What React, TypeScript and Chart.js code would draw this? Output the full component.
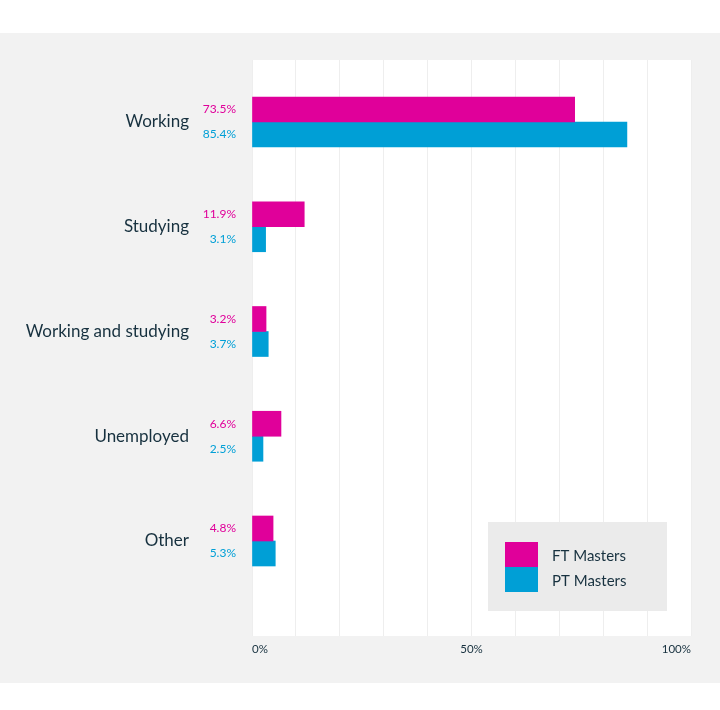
import React, { useEffect, useRef } from "react";
import { Chart, registerables } from "chart.js";

Chart.register(...registerables);

const categories = ["Working", "Studying", "Working and studying", "Unemployed", "Other"];
const ftMasters = [73.5, 11.9, 3.2, 6.6, 4.8];
const ptMasters = [85.4, 3.1, 3.7, 2.5, 5.3];
const xTickLabels = ["0%", "50%", "100%"];
const seriesNames = ["FT Masters", "PT Masters"];

const PINK = "#e0009a";
const BLUE = "#009fd6";
const TEXT = "#17313f";
const FONT = "Lato";

const chartBg = {
  id: "chartBg",
  beforeDraw(chart: any) {
    const { ctx, chartArea } = chart;
    ctx.save();
    ctx.fillStyle = "#ffffff";
    ctx.fillRect(chartArea.left, chartArea.top, chartArea.right - chartArea.left, chartArea.bottom - chartArea.top);
    ctx.restore();
  },
};

const valueLabels = {
  id: "valueLabels",
  afterDatasetsDraw(chart: any) {
    const { ctx, chartArea } = chart;
    ctx.save();
    ctx.font = `12px ${FONT}`;
    ctx.textAlign = "right";
    ctx.textBaseline = "middle";
    chart.data.datasets.forEach((ds: any, di: number) => {
      const meta = chart.getDatasetMeta(di);
      ctx.fillStyle = ds.backgroundColor;
      meta.data.forEach((el: any, i: number) => {
        const v = ds.data[i].x;
        ctx.fillText(`${v.toFixed(1)}%`, chartArea.left - 16, el.y);
      });
    });
    ctx.restore();
  },
};

const boxLegend = {
  id: "boxLegend",
  afterDraw(chart: any) {
    const { ctx, chartArea } = chart;
    const w = 179;
    const h = 89;
    const left = chartArea.right - 24 - w;
    const top = chartArea.bottom - 25 - h;
    ctx.save();
    ctx.fillStyle = "#ebebeb";
    ctx.fillRect(left, top, w, h);
    ctx.font = `15px ${FONT}`;
    ctx.textAlign = "left";
    ctx.textBaseline = "middle";
    chart.data.datasets.forEach((ds: any, i: number) => {
      const y = top + 20 + i * 25;
      ctx.fillStyle = ds.backgroundColor;
      ctx.fillRect(left + 17, y, 33, 25);
      ctx.fillStyle = TEXT;
      ctx.fillText(ds.label, left + 64, y + 14);
    });
    ctx.restore();
  },
};

export default function App() {
  const ref = useRef<HTMLCanvasElement>(null);

  useEffect(() => {
    document.body.style.margin = "0";
    if (!ref.current) return;
    const chart = new Chart(ref.current, {
      type: "bar",
      data: {
        datasets: [
          {
            label: seriesNames[0],
            data: ftMasters.map((v, i) => ({ x: v, y: i })),
            backgroundColor: PINK,
            barThickness: 25,
          },
          {
            label: seriesNames[1],
            data: ptMasters.map((v, i) => ({ x: v, y: i })),
            backgroundColor: BLUE,
            barThickness: 25,
          },
        ],
      },
      options: {
        indexAxis: "y",
        animation: false,
        responsive: false,
        maintainAspectRatio: false,
        layout: { padding: { top: 27, right: 29, bottom: 0, left: 0 } },
        plugins: {
          legend: { display: false },
          tooltip: { enabled: false },
        },
        scales: {
          x: {
            type: "linear",
            min: 0,
            max: 100,
            offset: false,
            border: { display: false },
            grid: { color: "#eeeeee", lineWidth: 1, drawTicks: false, offset: false },
            afterFit: (axis: any) => {
              axis.height = 47;
              axis.paddingLeft = 0;
              axis.paddingRight = 0;
            },
            ticks: {
              stepSize: 10,
              padding: 6,
              align: "inner",
              color: TEXT,
              font: { family: FONT, size: 11.5 },
              callback: (v: any) => {
                const idx = [0, 50, 100].indexOf(Number(v));
                return idx >= 0 ? xTickLabels[idx] : "";
              },
            },
          },
          y: {
            type: "linear",
            reverse: true,
            min: -0.592,
            max: 4.907,
            offset: false,
            border: { display: false },
            grid: { display: false, drawTicks: false, offset: false },
            afterFit: (axis: any) => {
              axis.width = 252;
              axis.paddingTop = 0;
              axis.paddingBottom = 0;
            },
            afterBuildTicks: (axis: any) => {
              axis.ticks = categories.map((_, i) => ({ value: i }));
            },
            ticks: {
              padding: 63,
              color: TEXT,
              font: { family: FONT, size: 17 },
              callback: (v: any) => categories[Number(v)] ?? "",
            },
          },
        },
      },
      plugins: [chartBg, valueLabels, boxLegend],
    } as any);
    return () => chart.destroy();
  }, []);

  return (
    <div style={{ width: 720, height: 710, background: "#ffffff", position: "relative" }}>
      <div style={{ position: "absolute", top: 33, left: 0, width: 720, height: 650, background: "#f2f2f2" }}>
        <canvas ref={ref} width={720} height={650} style={{ display: "block", width: 720, height: 650 }} />
      </div>
    </div>
  );
}
